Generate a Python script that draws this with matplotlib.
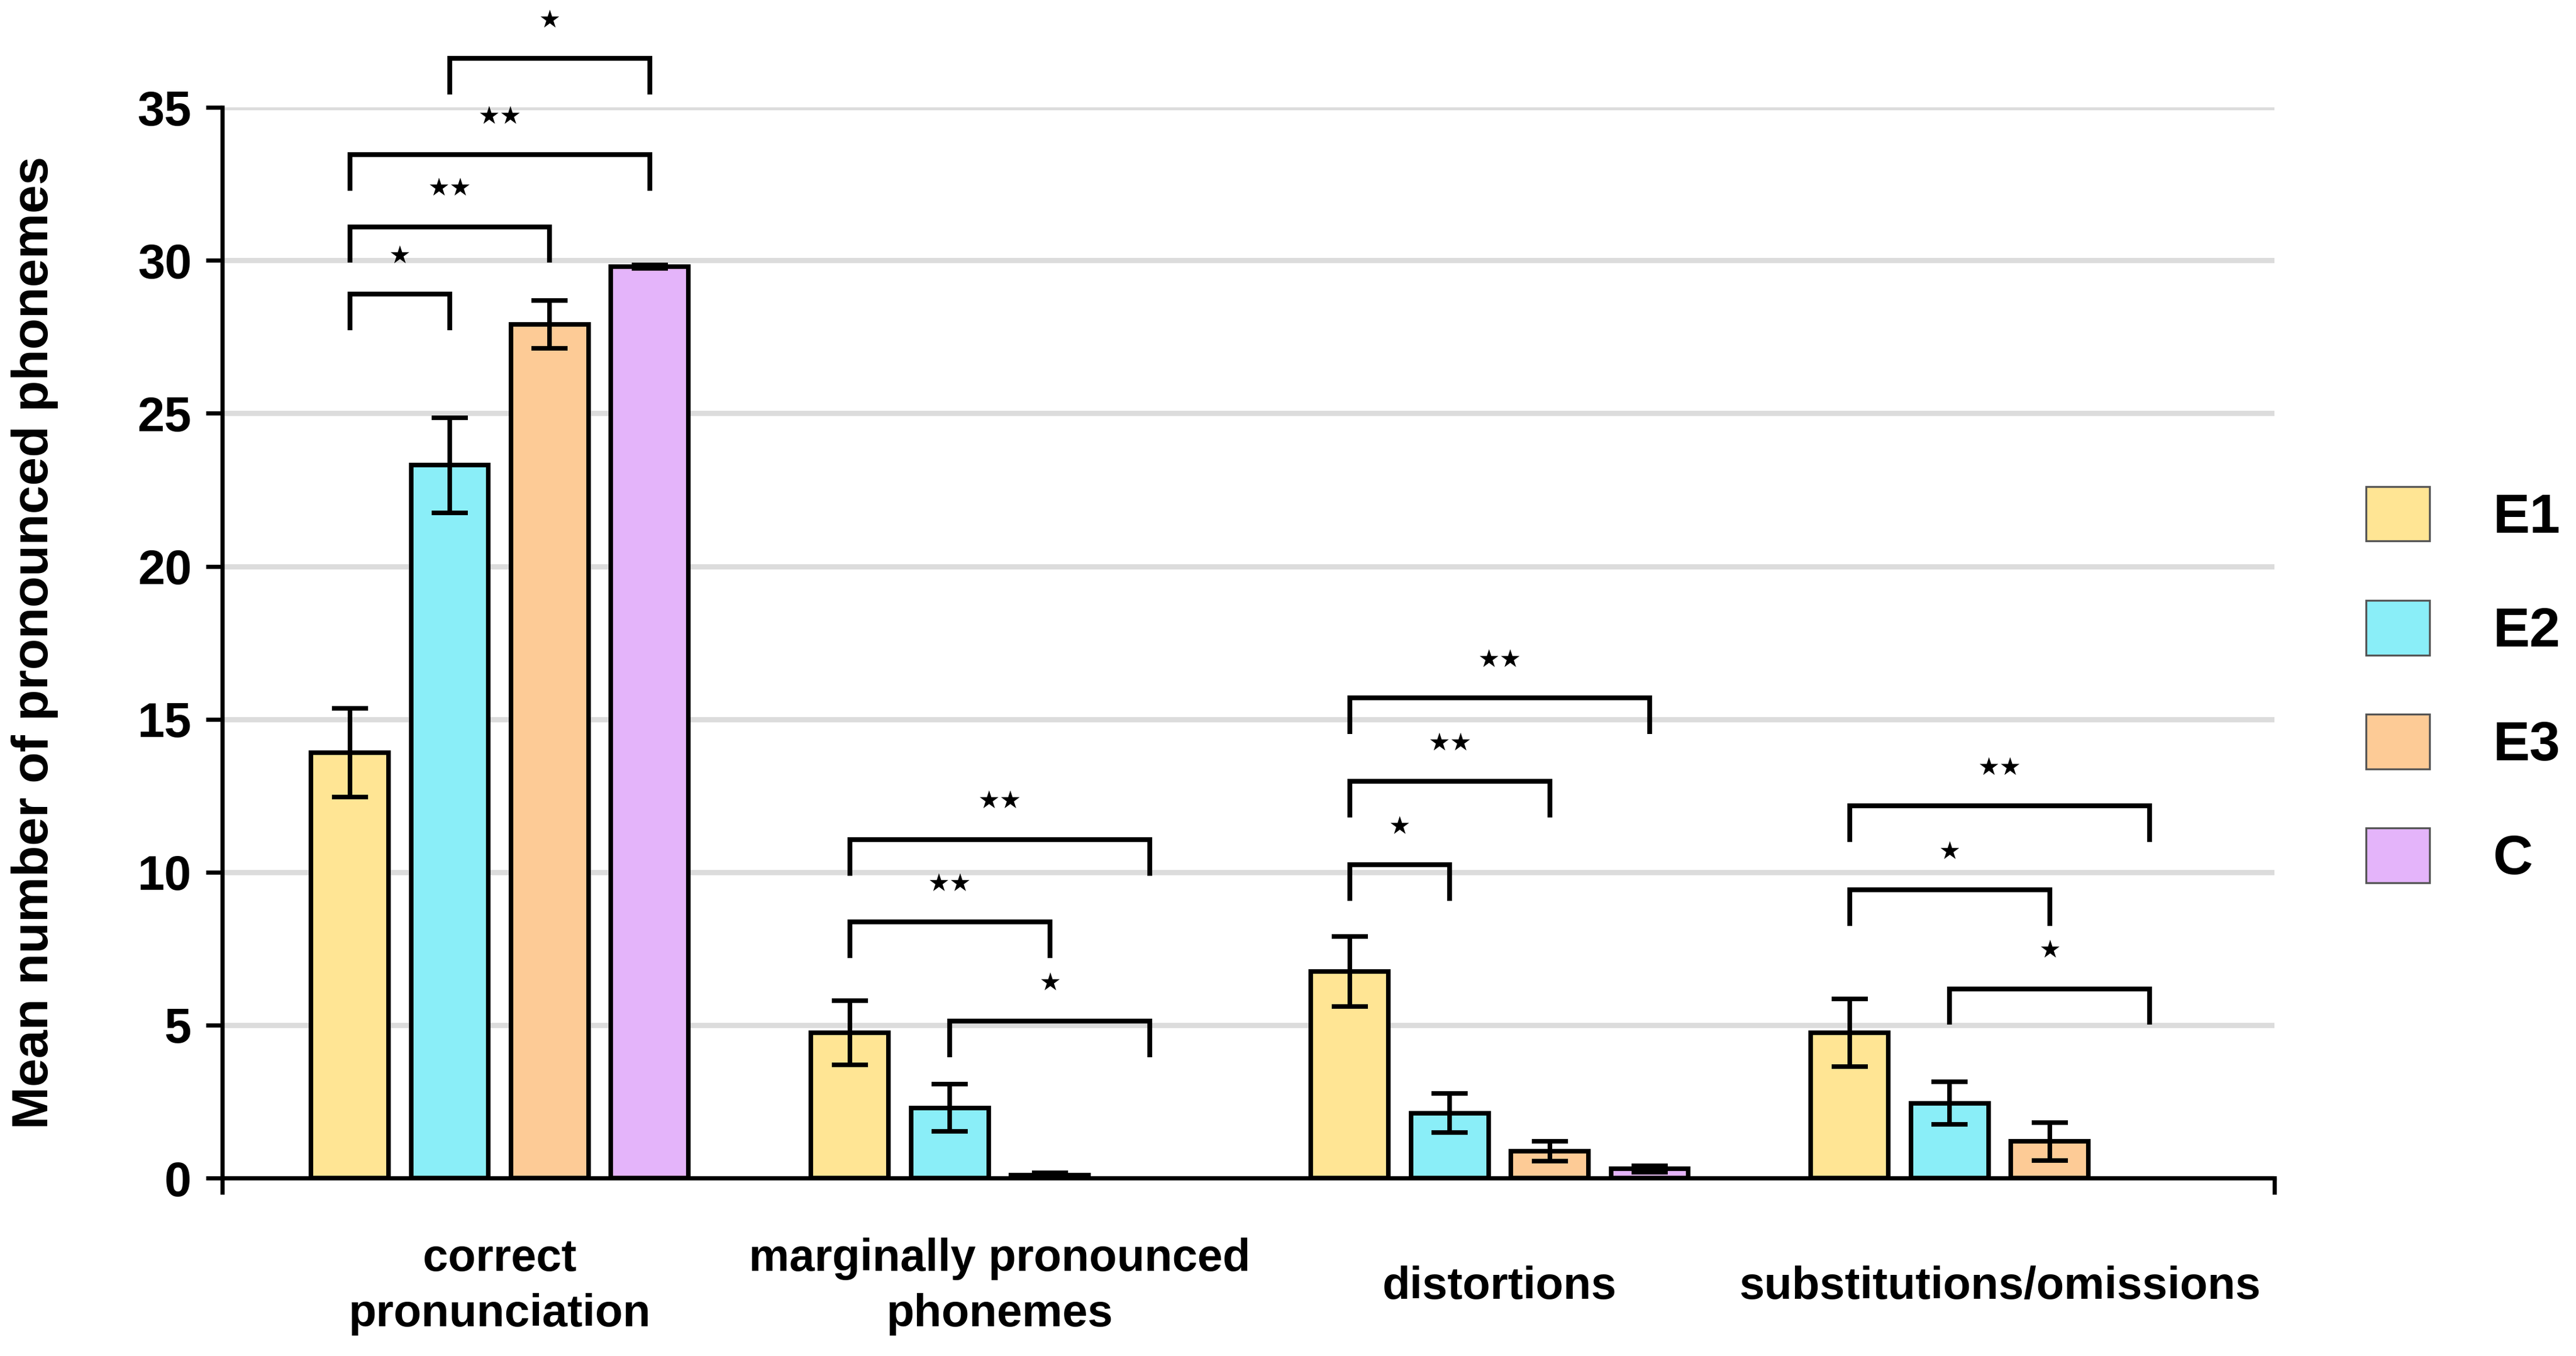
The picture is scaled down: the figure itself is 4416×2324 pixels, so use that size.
import numpy as np
import matplotlib
matplotlib.use("Agg")
import matplotlib.pyplot as plt
from matplotlib.patches import Patch

# ---------------- data ----------------
categories = ["correct\npronunciation", "marginally pronounced\nphonemes",
              "distortions", "substitutions/omissions"]
series = ["E1", "E2", "E3", "C"]

E1_mean = [13.9, 4.75, 6.75, 4.75]
E1_err = [1.45, 1.05, 1.15, 1.10]
E2_mean = [23.3, 2.30, 2.12, 2.45]
E2_err = [1.55, 0.78, 0.64, 0.70]
E3_mean = [27.9, 0.10, 0.88, 1.20]
E3_err = [0.78, 0.08, 0.33, 0.62]
C_mean = [29.8, 0.0, 0.30, 0.0]
C_err = [0.06, 0.0, 0.10, 0.0]

means = [E1_mean, E2_mean, E3_mean, C_mean]
errs = [E1_err, E2_err, E3_err, C_err]

# significance brackets: (category, bar_a, bar_b, bracket top value, label)
brackets = [
    (0, 0, 1, 28.9, "*"), (0, 0, 2, 31.1, "**"), (0, 0, 3, 33.45, "**"), (0, 1, 3, 36.6, "*"),
    (1, 0, 3, 11.07, "**"), (1, 0, 2, 8.37, "**"), (1, 1, 3, 5.13, "*"),
    (2, 0, 3, 15.7, "**"), (2, 0, 2, 12.97, "**"), (2, 0, 1, 10.24, "*"),
    (3, 0, 3, 12.17, "**"), (3, 0, 2, 9.42, "*"), (3, 1, 3, 6.19, "*"),
]

colors = ["#FFE594", "#8AEEF8", "#FDCB96", "#E4B4FA"]

# ---------------- figure ----------------
DPI = 200
fig = plt.figure(figsize=(4416 / DPI, 2324 / DPI), dpi=DPI)
ax = fig.add_axes([0.0863, 0.1312, 0.8830 - 0.0863, 0.9208 - 0.1312])

x = np.arange(len(categories))
step = 0.2
width = 0.155
offsets = (np.arange(len(series)) - 1.5) * step

handles = []
for i, (m, e, c, name) in enumerate(zip(means, errs, colors, series)):
    xs = x + offsets[i]
    m_arr = np.array(m)
    e_arr = np.array(e)
    shown = m_arr > 0
    ax.bar(xs[shown], m_arr[shown], width=width, color=c, edgecolor="black",
           linewidth=2.8, zorder=3)
    mask = e_arr > 0
    ax.errorbar(xs[mask], m_arr[mask], yerr=e_arr[mask], fmt="none", ecolor="black",
                elinewidth=2.8, capsize=11, capthick=2.8, zorder=4)
    handles.append(Patch(facecolor=c, edgecolor="#555555", linewidth=1.2, label=name))

# brackets
drop = 1.18
for cat, a, b, top, lab in brackets:
    xa = x[cat] + offsets[a]
    xb = x[cat] + offsets[b]
    ax.plot([xa, xa, xb, xb], [top - drop, top, top, top - drop], color="black",
            linewidth=3.0, solid_joinstyle="miter", solid_capstyle="butt",
            clip_on=False, zorder=5)
    ax.text((xa + xb) / 2, top + 1.25, lab.replace("*", "\u2605"), ha="center", va="center",
            fontsize=15, family="DejaVu Sans", color="black", clip_on=False)

# axes styling
ax.set_xlim(-0.555, 3.55)
ax.set_ylim(0, 35)
ax.set_yticks(np.arange(0, 36, 5))
ax.yaxis.grid(True, color="#DCDCDC", linewidth=3.2, zorder=0)
ax.set_axisbelow(True)
for s in ["top", "right"]:
    ax.spines[s].set_visible(False)
ax.spines["left"].set_linewidth(2.6)
ax.spines["bottom"].set_linewidth(2.6)
ax.tick_params(axis="y", direction="out", length=10, width=2.6, pad=9)
for t in ax.get_yticklabels():
    t.set_fontfamily("Liberation Sans")
    t.set_fontweight("bold")
    t.set_fontsize(30)

# x: end ticks only, category labels as minor ticks
ax.set_xticks([-0.555, 3.55])
ax.set_xticklabels(["", ""])
ax.tick_params(axis="x", which="major", direction="out", length=10, width=2.6)
ax.set_xticks(x, minor=True)
ax.set_xticklabels(categories, minor=True, fontsize=28, fontweight="bold",
                   family="Liberation Sans", linespacing=1.39, va="center")
ax.tick_params(axis="x", which="minor", length=0, pad=67)

ax.set_ylabel("Mean number of pronounced phonemes", fontsize=31.5, fontweight="bold",
              family="Liberation Sans")
ax.yaxis.set_label_coords(-0.080, 0.5)

leg = fig.legend(handles=handles, loc="center left", bbox_to_anchor=(0.9185, 0.494),
                 frameon=False, prop={"family": "Liberation Sans", "weight": "bold", "size": 34},
                 handlelength=1.15, handleheight=1.15, labelspacing=1.02,
                 handletextpad=1.15, borderpad=0, borderaxespad=0)

fig.savefig("out.png", dpi=DPI, facecolor="white")
